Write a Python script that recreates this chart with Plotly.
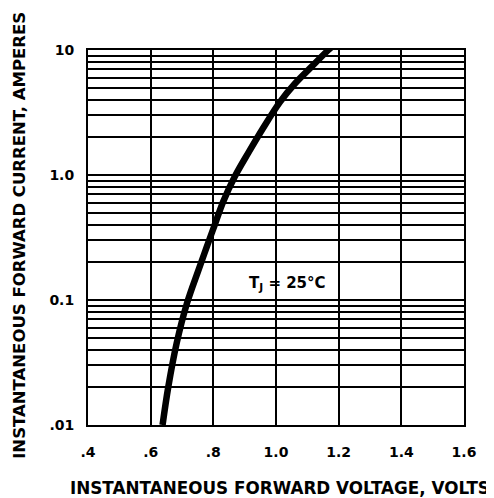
import plotly.graph_objects as go

# Forward characteristic (volts, amperes)
voltage = [0.638, 0.656, 0.683, 0.716, 0.752, 0.779, 0.805, 0.832, 0.869,
           0.912, 0.960, 1.013, 1.060, 1.109, 1.167, 1.180]
current = [0.0100, 0.0200, 0.0452, 0.0944, 0.172, 0.266, 0.403, 0.617, 0.977,
           1.51, 2.40, 3.85, 5.37, 7.16, 10.0, 10.7]

x_tick_vals = [0.4, 0.6, 0.8, 1.0, 1.2, 1.4, 1.6]
x_tick_text = [".4", ".6", ".8", "1.0", "1.2", "1.4", "1.6"]
y_tick_vals = [0.01, 0.1, 1, 10]
y_tick_text = [".01", "0.1", "1.0", "10"]
y_minor_vals = [m * d for d in (0.01, 0.1, 1) for m in range(2, 10)]

FONT = "DejaVu Sans, Arial, sans-serif"

fig = go.Figure()
fig.add_trace(go.Scatter(
    x=voltage, y=current, mode="lines",
    line=dict(color="black", width=6.5, shape="spline", smoothing=1.0),
    showlegend=False, hoverinfo="skip",
))

fig.update_layout(
    width=486, height=490,
    margin=dict(l=80, r=30, t=42, b=73),
    paper_bgcolor="white", plot_bgcolor="white",
    font=dict(family=FONT, color="black", size=14, weight="bold"),
    xaxis=dict(
        range=[0.4, 1.6], tickmode="array", tickvals=x_tick_vals, ticktext=x_tick_text,
        showgrid=True, gridcolor="black", gridwidth=1.8,
        showline=True, linecolor="black", linewidth=2, mirror=True,
        ticks="", ticklabelstandoff=13, zeroline=False,
        tickfont=dict(size=14, family=FONT, color="black", weight="bold"),
    ),
    yaxis=dict(
        type="log", range=[-2, 1], tickmode="array", tickvals=y_tick_vals, ticktext=y_tick_text,
        showgrid=True, gridcolor="black", gridwidth=1.8,
        minor=dict(tickmode="array", tickvals=y_minor_vals, showgrid=True,
                   gridcolor="black", gridwidth=1.6, ticks=""),
        showline=True, linecolor="black", linewidth=2, mirror=True,
        ticks="", ticklabelstandoff=9, zeroline=False,
        tickfont=dict(size=14, family=FONT, color="black", weight="bold"),
    ),
    annotations=[
        dict(text="INSTANTANEOUS FORWARD VOLTAGE, VOLTS", xref="paper", yref="paper",
             x=0.511, y=-0.168, xanchor="center", yanchor="middle", showarrow=False,
             font=dict(size=16.8, family=FONT, color="black", weight="bold")),
        dict(text="INSTANTANEOUS FORWARD CURRENT, AMPERES", xref="paper", yref="paper",
             x=-0.181, y=0.507, xanchor="center", yanchor="middle", showarrow=False,
             textangle=-90, font=dict(size=16.5, family=FONT, color="black", weight="bold")),
        dict(text="T<sub>J</sub> = 25°C", xref="x", yref="y",
             x=1.038, y=-0.864, xanchor="center", yanchor="middle", showarrow=False,
             font=dict(size=15, family=FONT, color="black", weight="bold")),
    ],
)

fig.write_html("out.html")
